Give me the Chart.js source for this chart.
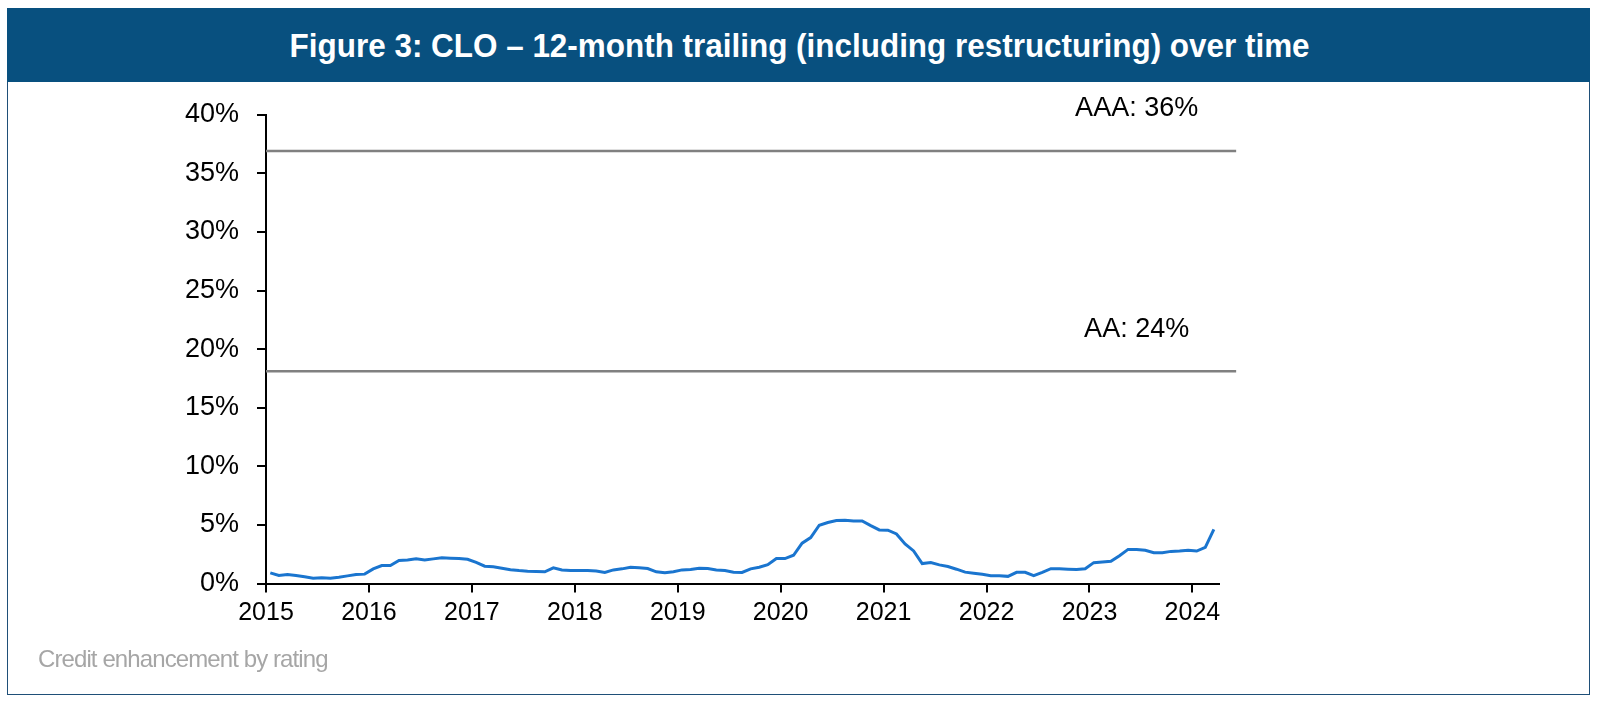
<!DOCTYPE html>
<html><head><meta charset="utf-8">
<script src="https://cdn.jsdelivr.net/npm/chart.js@4"></script>
<style>
html,body{margin:0;padding:0;background:#fff;width:1600px;height:701px;overflow:hidden;}
#frame{position:absolute;left:7px;top:8px;width:1583px;height:687px;border:1.5px solid #1f4f78;box-sizing:border-box;}
#bar{position:absolute;left:7px;top:8px;width:1583px;height:74px;background:#08507f;}
#title{position:absolute;left:0;top:8px;width:1600px;height:74px;text-align:center;color:#fff;font:bold 34px "Liberation Sans",Arial,sans-serif;line-height:74px;white-space:nowrap;}
#title span{display:inline-block;transform-origin:center center;}
#note{position:absolute;left:38px;top:645px;font:24px "Liberation Sans",Arial,sans-serif;color:#a6a6a6;letter-spacing:-0.9px;}
canvas{position:absolute;left:0;top:0;}
</style></head>
<body>
<div id="frame"></div>
<div id="bar"></div>
<div id="title"><span id="titleText">Figure 3: CLO – 12-month trailing (including restructuring) over time</span></div>
<canvas id="c" width="1600" height="701"></canvas>
<div id="note">Credit enhancement by rating</div>
<script>
// ---- data ----
const startYear = 2015;
const yearLabels = ['2015','2016','2017','2018','2019','2020','2021','2022','2023','2024'];
// monthly 12-month trailing values, Jan 2015 .. Mar 2024 (%)
const trailing12m = [
  0.91,0.68,0.77,0.68,0.57,0.45,0.48,0.45,0.54,0.65,0.77,0.80,
  1.25,1.53,1.53,1.96,2.00,2.10,2.00,2.10,2.20,2.16,2.13,2.07,
  1.80,1.48,1.42,1.30,1.17,1.10,1.05,1.03,1.00,1.34,1.16,1.10,
  1.10,1.10,1.07,0.94,1.16,1.25,1.39,1.34,1.28,1.00,0.91,1.00,
  1.16,1.19,1.31,1.28,1.16,1.10,0.97,0.94,1.25,1.39,1.60,2.13,
  2.13,2.41,3.44,3.92,4.97,5.20,5.37,5.40,5.34,5.34,4.94,4.57,
  4.55,4.23,3.38,2.78,1.70,1.79,1.59,1.45,1.22,0.97,0.88,0.78,
  0.67,0.67,0.61,0.95,0.95,0.67,0.95,1.26,1.25,1.22,1.20,1.26,
  1.78,1.83,1.89,2.37,2.91,2.91,2.83,2.63,2.63,2.74,2.77,2.83,
  2.77,3.08,4.62
];
const ratingLabels = ['AAA: 36%','AA: 24%'];
const ratingLevels = [36.9, 18.1];
const yTicks = [0,5,10,15,20,25,30,35,40];

// ---- helpers ----
const monthsPerYear = 12;
const xMax = 111.1;
const refLineEnd = 113.1;
const labelMonth = 101.5;

const lineData = trailing12m.map((v,i)=>({x:i+0.5,y:v}));
const refSets = ratingLevels.map(l=>({
  data:[{x:0,y:l},{x:refLineEnd,y:l}],
  borderColor:'#808080',borderWidth:2.5,pointRadius:0,clip:false,tension:0
}));

const refLabelPlugin = {
  id:'refLabels',
  afterDatasetsDraw(chart){
    const {ctx, scales:{x,y}} = chart;
    ctx.save();
    ctx.font = '27px "Liberation Sans", Arial, sans-serif';
    ctx.fillStyle = '#000';
    ctx.textAlign = 'center';
    ctx.textBaseline = 'middle';
    ratingLabels.forEach((t,k)=>{
      ctx.fillText(t, x.getPixelForValue(labelMonth), y.getPixelForValue(ratingLevels[k]) - 42);
    });
    ctx.restore();
  }
};

new Chart(document.getElementById('c'), {
  type:'line',
  data:{datasets:[
    {data:lineData,borderColor:'#1a75cf',borderWidth:3,pointRadius:0,tension:0},
    ...refSets
  ]},
  options:{
    responsive:false,animation:false,devicePixelRatio:1,
    layout:{padding:{top:114.7,right:381,bottom:0,left:0}},
    plugins:{legend:{display:false},tooltip:{enabled:false}},
    scales:{
      x:{type:'linear',min:0,max:xMax,
        afterBuildTicks(s){ s.ticks = yearLabels.map((_,k)=>({value:k*monthsPerYear})); },
        afterFit(s){ s.height = 701-583.5; },
        ticks:{autoSkip:false,maxRotation:0,color:'#000',padding:6,
          font:{family:'"Liberation Sans", Arial, sans-serif',size:25},
          callback:(v)=>yearLabels[Math.round(v/monthsPerYear)]},
        grid:{display:true,drawOnChartArea:false,drawTicks:true,tickLength:9,color:'#000',lineWidth:2},
        border:{display:true,color:'#000',width:2}
      },
      y:{min:0,max:40,
        afterBuildTicks(s){ s.ticks = yTicks.map(v=>({value:v})); },
        afterFit(s){ s.width = 266; },
        ticks:{color:'#000',padding:18,
          font:{family:'"Liberation Sans", Arial, sans-serif',size:27},
          callback:(v)=>v+'%'},
        grid:{display:true,drawOnChartArea:false,drawTicks:true,tickLength:9,color:'#000',lineWidth:2},
        border:{display:true,color:'#000',width:2}
      }
    }
  },
  plugins:[refLabelPlugin]
});

// fit title width
(function(){
  const sp = document.getElementById('titleText');
  const w = sp.getBoundingClientRect().width;
  const target = 1020;
  sp.style.transform = 'scaleX(' + (target/w) + ')';
})();
</script>
</body></html>
